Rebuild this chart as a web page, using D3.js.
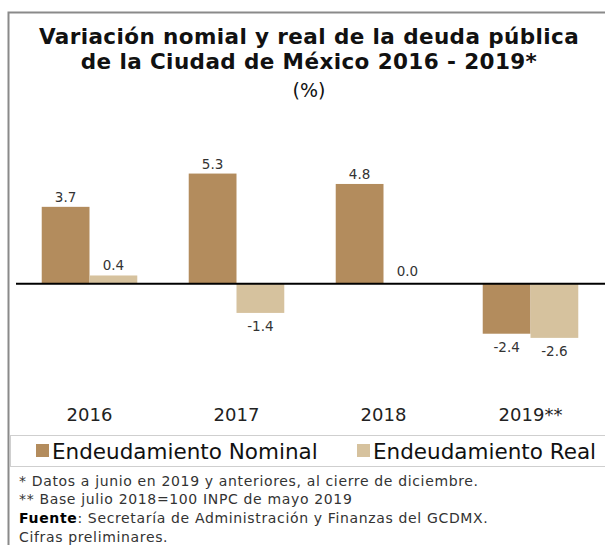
<!DOCTYPE html>
<html lang="es">
<head>
<meta charset="utf-8">
<script src="https://d3js.org/d3.v7.min.js"></script>
<style>
    body { margin: 0; background: #fff; }
    text { font-family: "DejaVu Sans", sans-serif; }
</style>
</head>
<body>
<div id="chart"></div>
<script>

    // data
    const years = ["2016", "2017", "2018", "2019**"];
    const series = ["Endeudamiento Nominal", "Endeudamiento Real"];
    const nominal = [3.7, 5.3, 4.8, -2.4];
    const real = [0.4, -1.4, 0.0, -2.6];
    const colours = ["#b38c5d", "#d6c29e"];
    const notes = [
        "*  Datos a junio en 2019 y anteriores, al cierre de diciembre.",
        "** Base julio 2018=100 INPC de mayo 2019",
        "Cifras preliminares."
    ];

    const width = 605, height = 545;

    const svg = d3.select("#chart")
        .append("svg")
        .attr("width", width)
        .attr("height", height);

    // frame
    svg.append("path")
        .attr("d", "M8.5,545 V12.5 H605")
        .attr("fill", "none")
        .attr("stroke", "#8a8a8a")
        .attr("stroke-width", 2);

    // title
    const title = svg.append("text")
        .attr("text-anchor", "middle")
        .attr("fill", "#111");
    title.append("tspan").attr("x", 309).attr("y", 44)
        .attr("font-size", 21.5).attr("font-weight", "bold")
        .attr("letter-spacing", 0.4)
        .text("Variación nomial y real de la deuda pública");
    title.append("tspan").attr("x", 309).attr("y", 69)
        .attr("font-size", 21.5).attr("font-weight", "bold")
        .attr("letter-spacing", 0.4)
        .text("de la Ciudad de México 2016 - 2019*");
    title.append("tspan").attr("x", 309).attr("y", 97)
        .attr("font-size", 19)
        .text("(%)");

    // scales
    const x0 = d3.scaleBand()
        .domain(years)
        .range([16, 604])
        .paddingInner(0.35)
        .paddingOuter(0.175);

    const x1 = d3.scaleBand()
        .domain(series)
        .range([0, x0.bandwidth()]);

    const y = d3.scaleLinear()
        .domain([-4, 6])
        .range([367, 159]);

    const rows = years.map(function(yr, i) {
        return {year: yr, values: [nominal[i], real[i]]};
    });

    const groups = svg.selectAll("g.year")
        .data(rows)
        .enter()
        .append("g")
        .attr("class", "year")
        .attr("transform", function(d) { return "translate(" + x0(d.year) + ",0)"; });

    const cells = groups.selectAll("g.cell")
        .data(function(d) {
            return d.values.map(function(v, j) { return {key: series[j], value: v, idx: j}; });
        })
        .enter()
        .append("g");

    cells.append("rect")
        .attr("x", function(d) { return x1(d.key); })
        .attr("y", function(d) { return y(Math.max(0, d.value)); })
        .attr("width", x1.bandwidth())
        .attr("height", function(d) { return Math.abs(y(d.value) - y(0)); })
        .attr("fill", function(d) { return colours[d.idx]; });

    cells.append("text")
        .attr("x", function(d) { return x1(d.key) + x1.bandwidth() / 2; })
        .attr("y", function(d) {
            if (d.value > 0) return y(d.value) - 5;
            if (d.value === 0) return y(0) - 8;
            return y(d.value) + 18;
        })
        .attr("text-anchor", "middle")
        .attr("font-size", 13.5)
        .attr("fill", "#333")
        .text(function(d) { return d.value.toFixed(1); });

    // zero line
    svg.append("line")
        .attr("x1", 16).attr("x2", 605)
        .attr("y1", y(0)).attr("y2", y(0))
        .attr("stroke", "#000")
        .attr("stroke-width", 2);

    // category labels
    svg.selectAll("text.yr")
        .data(years)
        .enter()
        .append("text")
        .attr("class", "yr")
        .attr("x", function(d) { return x0(d) + x0.bandwidth() / 2; })
        .attr("y", 421)
        .attr("text-anchor", "middle")
        .attr("font-size", 18)
        .attr("fill", "#222")
        .text(function(d) { return d; });

    // legend
    svg.append("rect")
        .attr("x", 10.5).attr("y", 435.5)
        .attr("width", 600).attr("height", 31)
        .attr("fill", "none")
        .attr("stroke", "#cfcfcf");

    const legendX = [36, 357];
    const leg = svg.selectAll("g.leg")
        .data(series)
        .enter()
        .append("g")
        .attr("transform", function(d, i) { return "translate(" + legendX[i] + ",444)"; });
    leg.append("rect")
        .attr("width", 13).attr("height", 13)
        .attr("fill", function(d, i) { return colours[i]; });
    leg.append("text")
        .attr("x", 16).attr("y", 14.5)
        .attr("font-size", 21.5)
        .attr("fill", "#111")
        .text(function(d) { return d; });

    // notes
    const foot = svg.append("g")
        .attr("font-size", 14)
        .attr("letter-spacing", 0.65)
        .attr("fill", "#333");
    foot.append("text").attr("x", 19).attr("y", 486).text(notes[0]);
    foot.append("text").attr("x", 19).attr("y", 504).text(notes[1]);
    const src = foot.append("text").attr("x", 19).attr("y", 523);
    src.append("tspan").attr("fill", "#000").attr("font-weight", "bold").text("Fuente");
    src.append("tspan").text(": Secretaría de Administración y Finanzas del GCDMX.");
    foot.append("text").attr("x", 19).attr("y", 542).text(notes[2]);

</script>
</body>
</html>
